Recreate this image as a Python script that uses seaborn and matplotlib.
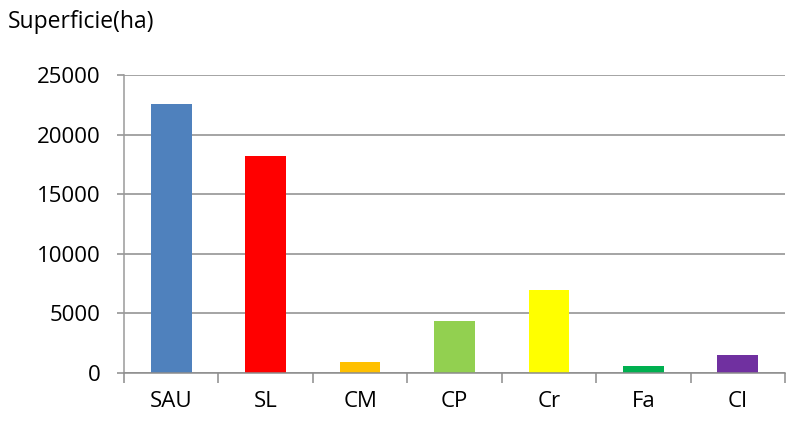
import matplotlib
matplotlib.use("Agg")
import matplotlib.pyplot as plt
import seaborn as sns
import pandas as pd
import numpy as np

categories = ["SAU", "SL", "CM", "CP", "Cr", "Fa", "CI"]
values = [22600, 18200, 900, 4350, 7000, 600, 1500]
colors = ["#4F81BD", "#FF0000", "#FFC000", "#92D050", "#FFFF00", "#00B050", "#7030A0"]
yticks = [0, 5000, 10000, 15000, 20000, 25000]
ylabel = "Superficie(ha)"

sns.set_theme(style="white")
plt.rcParams["font.family"] = ["Open Sans", "DejaVu Sans"]

df = pd.DataFrame({"cat": categories, "val": values})

fig = plt.figure(figsize=(7.95, 4.26), dpi=100)
ax = fig.add_axes([124/795, 1-373/426, (785-124)/795, (373-75)/426])

sns.barplot(data=df, x="cat", y="val", hue="cat", palette=colors,
            order=categories, hue_order=categories, width=0.43,
            legend=False, ax=ax, saturation=1, linewidth=0, edgecolor="none")

ax.set_ylim(0, 25000)
ax.set_xlim(-0.5, len(categories) - 0.5)
ax.set_yticks(yticks)
ax.set_yticklabels([str(v) for v in yticks])
ax.yaxis.grid(True, color="#8c8c8c", linewidth=1.1)
ax.set_axisbelow(True)
ax.set_xlabel("")
ax.set_ylabel("")

for s in ["top", "right"]:
    ax.spines[s].set_visible(False)
ax.spines["left"].set_color("#9a9a9a")
ax.spines["left"].set_linewidth(1.1)
ax.spines["bottom"].set_color("#8c8c8c")
ax.spines["bottom"].set_linewidth(1.1)

ax.tick_params(axis="y", which="major", length=5, width=1.1, color="#8c8c8c",
               pad=12, labelsize=16, left=True, labelcolor="black")
ax.tick_params(axis="x", which="major", length=0, pad=13, labelsize=16, labelcolor="black")
ax.set_xticks(np.arange(-0.5, len(categories) + 0.5, 1), minor=True)
ax.tick_params(axis="x", which="minor", length=7, width=1.1, color="#8c8c8c", bottom=True)

fig.text(8/795, 1-22/426, ylabel, fontsize=16.5, va="center", ha="left", color="black")

fig.savefig("out.png", dpi=100)
